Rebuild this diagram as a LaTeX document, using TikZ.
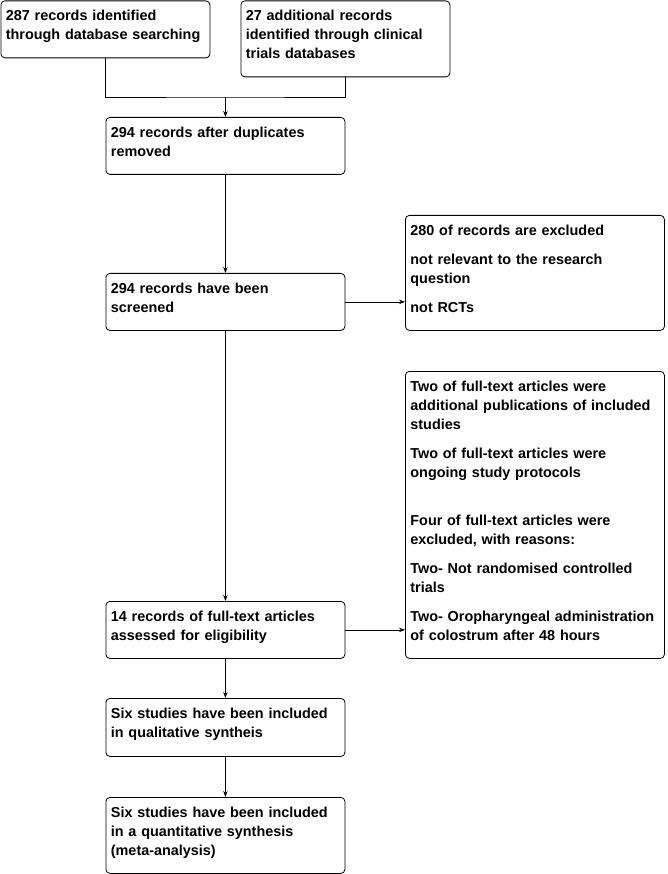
\documentclass[tikz,border=0pt]{standalone}
\usepackage{fontspec}
\setmainfont{Liberation Sans}
\usetikzlibrary{arrows.meta,positioning}
\hyphenpenalty=10000
\exhyphenpenalty=10000

\tikzset{
  rec/.style={draw, rounded corners=4pt, anchor=north west, align=left,
    inner xsep=5pt, inner ysep=0pt, text height=20pt, line width=0.8pt,
    font=\bfseries\fontsize{14.4}{19}\selectfont},
  recbox/.style 2 args={rec, text width=#1, text depth=#2},
  arr/.style={-{Stealth[length=6pt,width=4.5pt]}, line width=0.8pt},
  link/.style={line width=0.8pt}
}

\begin{document}
\begin{tikzpicture}[x=1pt,y=1pt]
\useasboundingbox (0,0) rectangle (667,-874);

% identification
\node[recbox={199pt}{37pt}] (dbsearch) at (0.5,-0.5)
  {287 records identified\\through database searching};
\node[recbox={199pt}{56pt}] (trials) at (240.5,-0.5)
  {27 additional records\\identified through clinical\\trials databases};

% screening
\node[recbox={229pt}{37pt}] (dedup) at (105.5,-117)
  {294 records after duplicates\\removed};
\node[recbox={229pt}{37pt}] (screened) at (105.5,-273)
  {294 records have been\\screened};
\node[recbox={249pt}{95pt}] (excl) at (405,-215)
  {280 of records are excluded\\[10pt]not relevant to the research\\question\\[10pt]not RCTs};

% eligibility
\node[recbox={229pt}{37pt}] (fulltext) at (105.5,-601)
  {14 records of full-text articles\\assessed for eligibility};
\node[recbox={249pt}{267pt}] (ftexcl) at (405,-371)
  {Two of full-text articles were\\additional publications of included\\studies\\[10pt]
   Two of full-text articles were\\ongoing study protocols\\[29pt]
   Four of full-text articles were\\excluded, with reasons:\\[10pt]
   Two- Not randomised controlled\\trials\\[10pt]
   Two- Oropharyngeal administration\\of colostrum after 48 hours};

% included
\node[recbox={229pt}{38pt}] (qual) at (105.5,-698)
  {Six studies have been included\\in qualitative syntheis};
\node[recbox={229pt}{56pt}] (quant) at (105.5,-797)
  {Six studies have been included\\in a quantitative synthesis\\(meta-analysis)};

% connectors
\coordinate (merge) at (dedup.north |- 0,-97);
\draw[link] (dbsearch.south) |- (merge) -| (trials.south);
\draw[arr] (merge) -- (dedup.north);
\draw[arr] (dedup.south) -- (screened.north);
\draw[arr] (screened.east) -- (screened.east -| excl.west);
\draw[arr] (screened.south) -- (fulltext.north);
\draw[arr] (fulltext.east) -- (fulltext.east -| ftexcl.west);
\draw[arr] (fulltext.south) -- (qual.north);
\draw[arr] (qual.south) -- (quant.north);
\end{tikzpicture}
\end{document}
